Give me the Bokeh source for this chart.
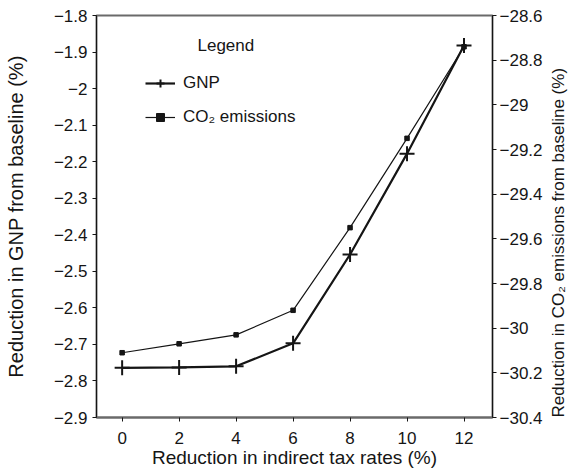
import math
from bokeh.plotting import figure
from bokeh.models import (Range1d, LinearAxis, FixedTicker, CustomJSTickFormatter,
                          Legend, LegendItem, Label)
from bokeh.embed import file_html
from bokeh.resources import INLINE

# ---- data ----
tax_cut = [0, 2, 4, 6, 8, 10, 12]
gnp = [-2.764, -2.763, -2.760, -2.697, -2.454, -2.178, -1.882]
co2 = [-30.11, -30.07, -30.03, -29.92, -29.55, -29.15, -28.74]

x_ticks = [0, 2, 4, 6, 8, 10, 12]
gnp_ticks = [-1.8, -1.9, -2.0, -2.1, -2.2, -2.3, -2.4, -2.5, -2.6, -2.7, -2.8, -2.9]
co2_ticks = [-28.6, -28.8, -29.0, -29.2, -29.4, -29.6, -29.8, -30.0, -30.2, -30.4]

x_title = "Reduction in indirect tax rates (%)"
gnp_title = "Reduction in GNP from baseline (%)"
co2_title = "Reduction in CO\u2082 emissions from baseline (%)"
series_names = ["GNP", "CO\u2082 emissions"]
legend_title = "Legend"

FONT = "Liberation Sans"
INK = "#151515"

p = figure(width=583, height=472, output_backend="svg", toolbar_location=None,
           x_range=Range1d(-0.9, 13.0), y_range=Range1d(-2.9, -1.8),
           min_border_left=96, min_border_right=91, min_border_top=15, min_border_bottom=55)
p.extra_y_ranges = {"co2": Range1d(-30.4, -28.6)}
p.xgrid.visible = False
p.ygrid.visible = False
p.outline_line_color = "#6a6a6a"
p.outline_line_width = 2
p.background_fill_color = "white"
p.border_fill_color = "white"

fmt_code = """
const v = Math.round(tick * 10) / 10;
return (v < 0 ? "\u2212" : "") + Math.abs(v).toString();
"""

def style(ax, ticks):
    ax.ticker = FixedTicker(ticks=ticks)
    ax.formatter = CustomJSTickFormatter(code=fmt_code)
    ax.major_label_text_font = FONT
    ax.major_label_text_font_size = "17px"
    ax.major_label_text_color = INK
    ax.axis_label_text_font = FONT
    ax.axis_label_text_font_size = "19px"
    ax.axis_label_text_font_style = "normal"
    ax.axis_label_text_color = INK
    ax.major_tick_out = 4
    ax.major_tick_in = 0
    ax.minor_tick_out = 0
    ax.minor_tick_in = 0
    ax.axis_line_color = INK
    ax.major_tick_line_color = INK

xa = p.xaxis[0]
style(xa, x_ticks)
xa.axis_label = x_title
xa.major_label_standoff = 10
xa.axis_label_standoff = 0
xa.axis_line_color = "#6a6a6a"
xa.axis_line_width = 2

ya = p.yaxis[0]
style(ya, gnp_ticks)
ya.axis_label = gnp_title
ya.axis_label_text_font_size = "20px"
ya.major_label_standoff = 5
ya.axis_label_standoff = 24

ra = LinearAxis(y_range_name="co2")
style(ra, co2_ticks)
ra.major_label_standoff = 3
ra.axis_label = co2_title
ra.axis_label_text_font_size = "17px"
ra.axis_label_standoff = 13
ra.axis_label_text_baseline = "top"
if "axis_label_orientation" in ra.properties():
    # read bottom-to-top, as in the reference
    ra.axis_label_orientation = math.pi / 2
if "axis_label_align" in ra.properties():
    ra.axis_label_align = "start"
p.add_layout(ra, "right")

# ---- series ----
l1 = p.line(tax_cut, gnp, line_color=INK, line_width=2.2)
m1 = p.scatter(tax_cut, gnp, marker="cross", size=15, line_color=INK, line_width=2)
l2 = p.line(tax_cut, co2, y_range_name="co2", line_color=INK, line_width=1.2)
m2 = p.scatter(tax_cut, co2, y_range_name="co2", marker="square", size=4.5,
               line_color=INK, fill_color=INK)

legend = Legend(items=[LegendItem(label=series_names[0], renderers=[l1, m1]),
                       LegendItem(label=series_names[1], renderers=[l2, m2])],
                location=(49, 290), border_line_color=None, background_fill_alpha=0,
                padding=0, margin=0, spacing=14, glyph_width=30, glyph_height=20,
                label_height=20, label_standoff=8,
                label_text_font=FONT, label_text_font_size="17px", label_text_color=INK)
p.add_layout(legend, "center")

p.add_layout(Label(x=101, y=372, x_units="screen", y_units="screen", text=legend_title,
                   text_font=FONT, text_font_size="17px", text_color=INK,
                   text_baseline="middle"))

open("out.html", "w").write(file_html(p, INLINE))
